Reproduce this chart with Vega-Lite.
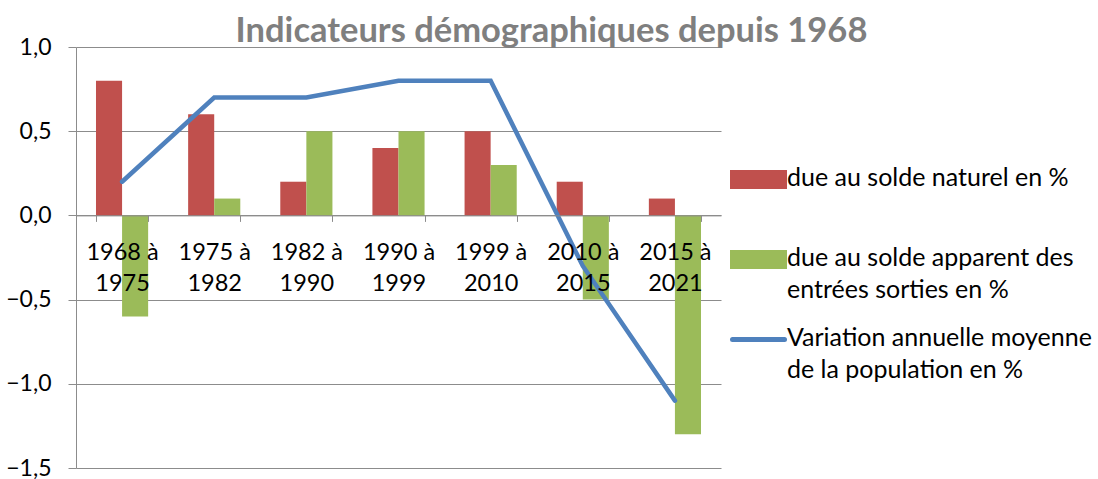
{
  "$schema": "https://vega.github.io/schema/vega-lite/v6.json",
  "width": 645,
  "height": 421,
  "autosize": "none",
  "padding": {"left": 76, "top": 47, "right": 377, "bottom": 11},
  "config": {"font": "Lato", "view": {"stroke": null}},
  "title": {"text": "Indicateurs démographiques depuis 1968", "fontSize": 34.5, "font": "Lato", "fontWeight": "bold", "color": "#7F7F7F", "anchor": "middle", "dx": 153, "offset": -13},
  "data": {"values": [
    {"period": "1968 à 1975", "serie": "due au solde naturel en %", "value": 0.8},
    {"period": "1975 à 1982", "serie": "due au solde naturel en %", "value": 0.6},
    {"period": "1982 à 1990", "serie": "due au solde naturel en %", "value": 0.2},
    {"period": "1990 à 1999", "serie": "due au solde naturel en %", "value": 0.4},
    {"period": "1999 à 2010", "serie": "due au solde naturel en %", "value": 0.5},
    {"period": "2010 à 2015", "serie": "due au solde naturel en %", "value": 0.2},
    {"period": "2015 à 2021", "serie": "due au solde naturel en %", "value": 0.1},
    {"period": "1968 à 1975", "serie": "due au solde apparent des entrées sorties en %", "value": -0.6},
    {"period": "1975 à 1982", "serie": "due au solde apparent des entrées sorties en %", "value": 0.1},
    {"period": "1982 à 1990", "serie": "due au solde apparent des entrées sorties en %", "value": 0.5},
    {"period": "1990 à 1999", "serie": "due au solde apparent des entrées sorties en %", "value": 0.5},
    {"period": "1999 à 2010", "serie": "due au solde apparent des entrées sorties en %", "value": 0.3},
    {"period": "2010 à 2015", "serie": "due au solde apparent des entrées sorties en %", "value": -0.5},
    {"period": "2015 à 2021", "serie": "due au solde apparent des entrées sorties en %", "value": -1.3},
    {"period": "1968 à 1975", "serie": "Variation annuelle moyenne de la population en %", "value": 0.2},
    {"period": "1975 à 1982", "serie": "Variation annuelle moyenne de la population en %", "value": 0.7},
    {"period": "1982 à 1990", "serie": "Variation annuelle moyenne de la population en %", "value": 0.7},
    {"period": "1990 à 1999", "serie": "Variation annuelle moyenne de la population en %", "value": 0.8},
    {"period": "1999 à 2010", "serie": "Variation annuelle moyenne de la population en %", "value": 0.8},
    {"period": "2010 à 2015", "serie": "Variation annuelle moyenne de la population en %", "value": -0.3},
    {"period": "2015 à 2021", "serie": "Variation annuelle moyenne de la population en %", "value": -1.1}
  ]},
  "encoding": {
    "x": {
      "field": "period", "type": "nominal", "sort": null,
      "scale": {"paddingInner": 0.434, "paddingOuter": 0.217},
      "axis": {
        "title": null, "offset": -252.6, "labelAngle": 0, "zindex": 1,
        "labelExpr": "datum.value == null ? '' : [substring(datum.value, 0, 6), substring(datum.value, 7)]",
        "labelFontSize": 23.5, "labelColor": "#000000", "labelLineHeight": 31, "labelPadding": 19,
        "tickBand": "extent", "tickSize": 6, "tickColor": "#8C8C8C", "domainColor": "#8C8C8C",
        "labelBaseline": "top", "labelFont": "Lato"
      }
    },
    "y": {
      "field": "value", "type": "quantitative",
      "scale": {"domain": [-1.5, 1.0], "nice": false, "zero": false},
      "axis": {
        "title": null, "values": [-1.5, -1, -0.5, 0, 0.5, 1],
        "labelExpr": "replace(format(datum.value, '.1f'), '.', ',')",
        "labelFontSize": 23, "labelColor": "#000000", "labelPadding": 17, "labelFont": "Lato",
        "tickSize": 8, "tickColor": "#8C8C8C", "domainColor": "#8C8C8C",
        "grid": true, "gridColor": "#8C8C8C", "gridWidth": 1
      }
    }
  },
  "layer": [
    {
      "transform": [{"filter": "datum.serie !== 'Variation annuelle moyenne de la population en %'"}],
      "mark": {"type": "bar"},
      "encoding": {
        "xOffset": {"field": "serie", "type": "nominal", "sort": ["due au solde naturel en %", "due au solde apparent des entrées sorties en %"]},
        "color": {
          "field": "serie", "type": "nominal",
          "scale": {
            "domain": ["due au solde naturel en %", "due au solde apparent des entrées sorties en %", "Variation annuelle moyenne de la population en %"],
            "range": ["#C0504D", "#9BBB59", "#4F81BD"]
          },
          "legend": {
            "title": null, "orient": "none", "legendX": 654, "legendY": 104,
            "symbolType": "M-1,-0.27L1,-0.27L1,0.27L-1,0.27Z", "symbolSize": 2704,
            "labelFontSize": 25, "labelColor": "#000000", "labelFont": "Lato",
            "labelOffset": 0, "labelBaseline": "top", "rowPadding": 8, "labelLimit": 400,
            "labelExpr": "datum.label === 'due au solde naturel en %' ? ['due au solde naturel en %', ' '] : datum.label === 'due au solde apparent des entrées sorties en %' ? ['due au solde apparent des', 'entrées sorties en %'] : ['Variation annuelle moyenne', 'de la population en %']",
            "encode": {
              "symbols": {"update": {
                "shape": [{"test": "datum.value === 'Variation annuelle moyenne de la population en %'", "value": "M-1,0L1,0"}, {"value": "M-1,-0.27L1,-0.27L1,0.27L-1,0.27Z"}],
                "fill": [{"test": "datum.value === 'Variation annuelle moyenne de la population en %'", "value": "transparent"}, {"scale": "color", "field": "value"}],
                "stroke": [{"test": "datum.value === 'Variation annuelle moyenne de la population en %'", "scale": "color", "field": "value"}, {"value": "transparent"}],
                "strokeWidth": {"value": 5},
                "strokeCap": {"value": "round"},
                "opacity": {"value": 1}
              }},
              "labels": {"update": {"dy": {"value": -14}, "lineHeight": {"value": 32}}}
            }
          }
        }
      }
    },
    {
      "transform": [{"filter": "datum.serie === 'Variation annuelle moyenne de la population en %'"}],
      "mark": {"type": "line", "strokeWidth": 4.5, "strokeCap": "round", "strokeJoin": "miter"},
      "encoding": {
        "color": {"field": "serie", "type": "nominal"}
      }
    }
  ]
}
